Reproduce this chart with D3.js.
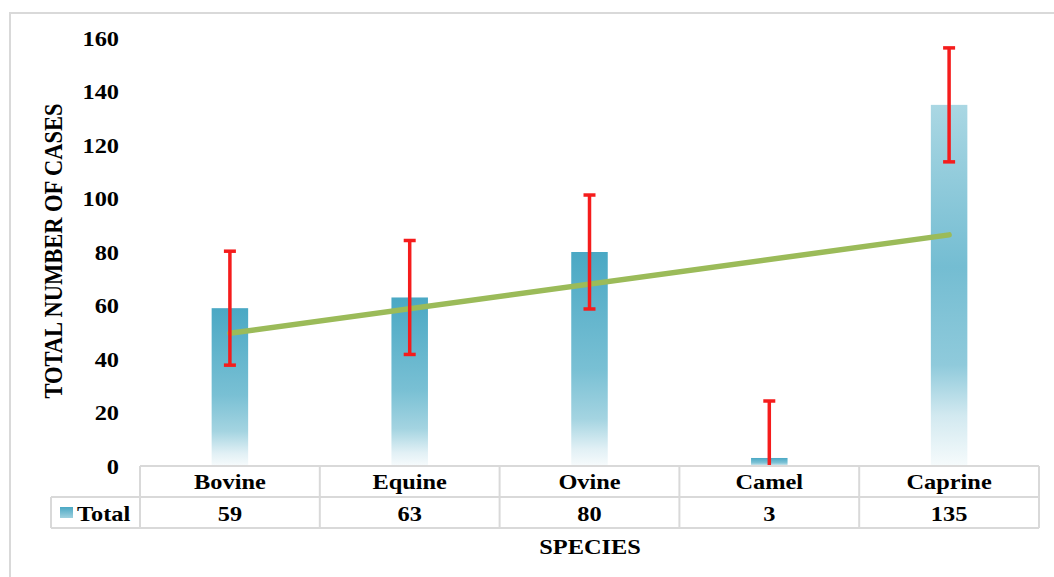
<!DOCTYPE html>
<html>
<head>
<meta charset="utf-8">
<script src="https://cdn.jsdelivr.net/npm/d3@7"></script>
<style>
  html, body { margin: 0; padding: 0; background: #fff; }
  svg { display: block; }
  text { font-family: "Liberation Serif", "Times New Roman", serif; font-weight: bold; fill: #000; }
</style>
</head>
<body>
<svg id="chart" width="1054" height="577"></svg>
<script>
// ---- data ----
const categories = ["Bovine", "Equine", "Ovine", "Camel", "Caprine"];
const seriesName = "Total";
const totals = [59, 63, 80, 3, 135];
const errorAmounts = [21.3, 21.3, 21.3, 21.3, 21.3];
const yTicks = [0, 20, 40, 60, 80, 100, 120, 140, 160];
const yTitle = "TOTAL NUMBER OF CASES";
const xTitle = "SPECIES";

// ---- layout ----
const W = 1054, H = 577;
const plot = { left: 140, right: 1039, top: 38, bottom: 466 };
const rowH = 31;
const legendLeft = 51;
const FS = 21;          // font size
const SX = 1.16;        // horizontal stretch of glyphs

const svg = d3.select("#chart");
const defs = svg.append("defs");

// gradients
function makeGrad(id, stops) {
  const g = defs.append("linearGradient").attr("id", id)
    .attr("x1", 0).attr("y1", 0).attr("x2", 0).attr("y2", 1);
  stops.forEach(s => g.append("stop").attr("offset", s[0]).attr("stop-color", s[1]));
}
makeGrad("gNormal", [[0, "#4aa8c4"], [0.55, "#79c0d4"], [0.78, "#a4d4e1"], [0.92, "#e1f0f5"], [1, "#f7fbfc"]]);
makeGrad("gCaprine", [[0, "#aad7e3"], [0.45, "#74bdd2"], [0.72, "#8fcadb"], [0.86, "#d2e9f0"], [1, "#f6fbfc"]]);
makeGrad("gKey", [[0, "#4aa8c4"], [1, "#9fd1df"]]);

defs.append("clipPath").attr("id", "plotClip").append("rect")
  .attr("x", plot.left - 20).attr("y", 0).attr("width", plot.right - plot.left + 40).attr("height", plot.bottom);

// chart border
svg.append("rect").attr("x", 10).attr("y", 13).attr("width", W + 10).attr("height", H + 10)
  .attr("fill", "#fff").attr("stroke", "#d9d9d9").attr("stroke-width", 2);

// scales
const x = d3.scaleBand().domain(categories).range([plot.left, plot.right]).padding(0);
const y = d3.scaleLinear().domain([0, 160]).range([plot.bottom, plot.top]);
const barW = x.bandwidth() * 0.203;

function stretchedText(g, tx, ty, str, anchor) {
  return g.append("text")
    .attr("transform", `translate(${tx},${ty}) scale(${SX},1)`)
    .attr("text-anchor", anchor)
    .attr("font-size", FS)
    .text(str);
}

// y axis (labels only)
const yAxis = d3.axisLeft(y).tickValues(yTicks).tickSize(0).tickPadding(0).tickFormat(d3.format("d"));
const yg = svg.append("g").attr("transform", `translate(119,0)`).call(yAxis);
yg.select(".domain").remove();
yg.selectAll(".tick text")
  .attr("x", 0).attr("dy", "0.35em")
  .attr("font-size", FS).attr("fill", "#000")
  .attr("font-family", "Liberation Serif, serif").attr("font-weight", "bold")
  .attr("transform", `scale(${SX},1)`)
  .attr("text-anchor", "end");

// bars
const bars = svg.append("g");
categories.forEach((c, i) => {
  bars.append("rect")
    .attr("x", x(c) + x.bandwidth() / 2 - barW / 2)
    .attr("y", y(totals[i]))
    .attr("width", barW)
    .attr("height", y(0) - y(totals[i]))
    .attr("fill", c === "Caprine" ? "url(#gCaprine)" : "url(#gNormal)");
});

// trendline (linear regression over category index)
const n = totals.length;
const xs = totals.map((_, i) => i + 1);
const mx = d3.mean(xs), my = d3.mean(totals);
const slope = d3.sum(xs.map((xi, i) => (xi - mx) * (totals[i] - my))) / d3.sum(xs.map(xi => (xi - mx) ** 2));
const icpt = my - slope * mx;
const cx = i => x(categories[i]) + x.bandwidth() / 2;
svg.append("line")
  .attr("x1", cx(0)).attr("y1", y(icpt + slope * 1))
  .attr("x2", cx(n - 1)).attr("y2", y(icpt + slope * n))
  .attr("stroke", "#9bbb59").attr("stroke-width", 5.5).attr("stroke-linecap", "round");

// error bars
const eg = svg.append("g").attr("clip-path", "url(#plotClip)");
categories.forEach((c, i) => {
  const px = cx(i);
  const hi = totals[i] + errorAmounts[i];
  const lo = totals[i] - errorAmounts[i];
  eg.append("line").attr("x1", px).attr("x2", px).attr("y1", y(hi)).attr("y2", y(lo))
    .attr("stroke", "#f51c1c").attr("stroke-width", 3.5);
  eg.append("line").attr("x1", px - 6).attr("x2", px + 6).attr("y1", y(hi)).attr("y2", y(hi))
    .attr("stroke", "#f51c1c").attr("stroke-width", 3.5);
  if (lo >= 0) {
    eg.append("line").attr("x1", px - 6).attr("x2", px + 6).attr("y1", y(lo)).attr("y2", y(lo))
      .attr("stroke", "#f51c1c").attr("stroke-width", 3.5);
  }
});

// data table
const tg = svg.append("g");
const tStroke = "#d9d9d9";
const r0 = plot.bottom, r1 = plot.bottom + rowH, r2 = plot.bottom + 2 * rowH;
tg.append("line").attr("x1", plot.left).attr("x2", plot.right).attr("y1", r0).attr("y2", r0).attr("stroke", tStroke).attr("stroke-width", 2);
tg.append("line").attr("x1", legendLeft).attr("x2", plot.right).attr("y1", r1).attr("y2", r1).attr("stroke", tStroke).attr("stroke-width", 2);
tg.append("line").attr("x1", legendLeft).attr("x2", plot.right).attr("y1", r2).attr("y2", r2).attr("stroke", tStroke).attr("stroke-width", 2);
tg.append("line").attr("x1", legendLeft).attr("x2", legendLeft).attr("y1", r1).attr("y2", r2).attr("stroke", tStroke).attr("stroke-width", 2);
categories.forEach(c => {
  tg.append("line").attr("x1", x(c)).attr("x2", x(c)).attr("y1", r0).attr("y2", r2).attr("stroke", tStroke).attr("stroke-width", 2);
});
tg.append("line").attr("x1", plot.right).attr("x2", plot.right).attr("y1", r0).attr("y2", r2).attr("stroke", tStroke).attr("stroke-width", 2);

categories.forEach((c, i) => {
  stretchedText(tg, cx(i), r0 + 23, c, "middle");
  stretchedText(tg, cx(i), r1 + 24, String(totals[i]), "middle");
});
// legend key
tg.append("rect").attr("x", 60).attr("y", r1 + 10).attr("width", 13).attr("height", 11).attr("fill", "url(#gKey)");
stretchedText(tg, 77, r1 + 24, seriesName, "start");

// axis titles
stretchedText(svg, 590, 554, xTitle, "middle");
svg.append("text")
  .attr("transform", `translate(62,251) rotate(-90) scale(1,${SX})`)
  .attr("text-anchor", "middle")
  .attr("font-size", 22.5)
  .text(yTitle);
</script>
</body>
</html>
